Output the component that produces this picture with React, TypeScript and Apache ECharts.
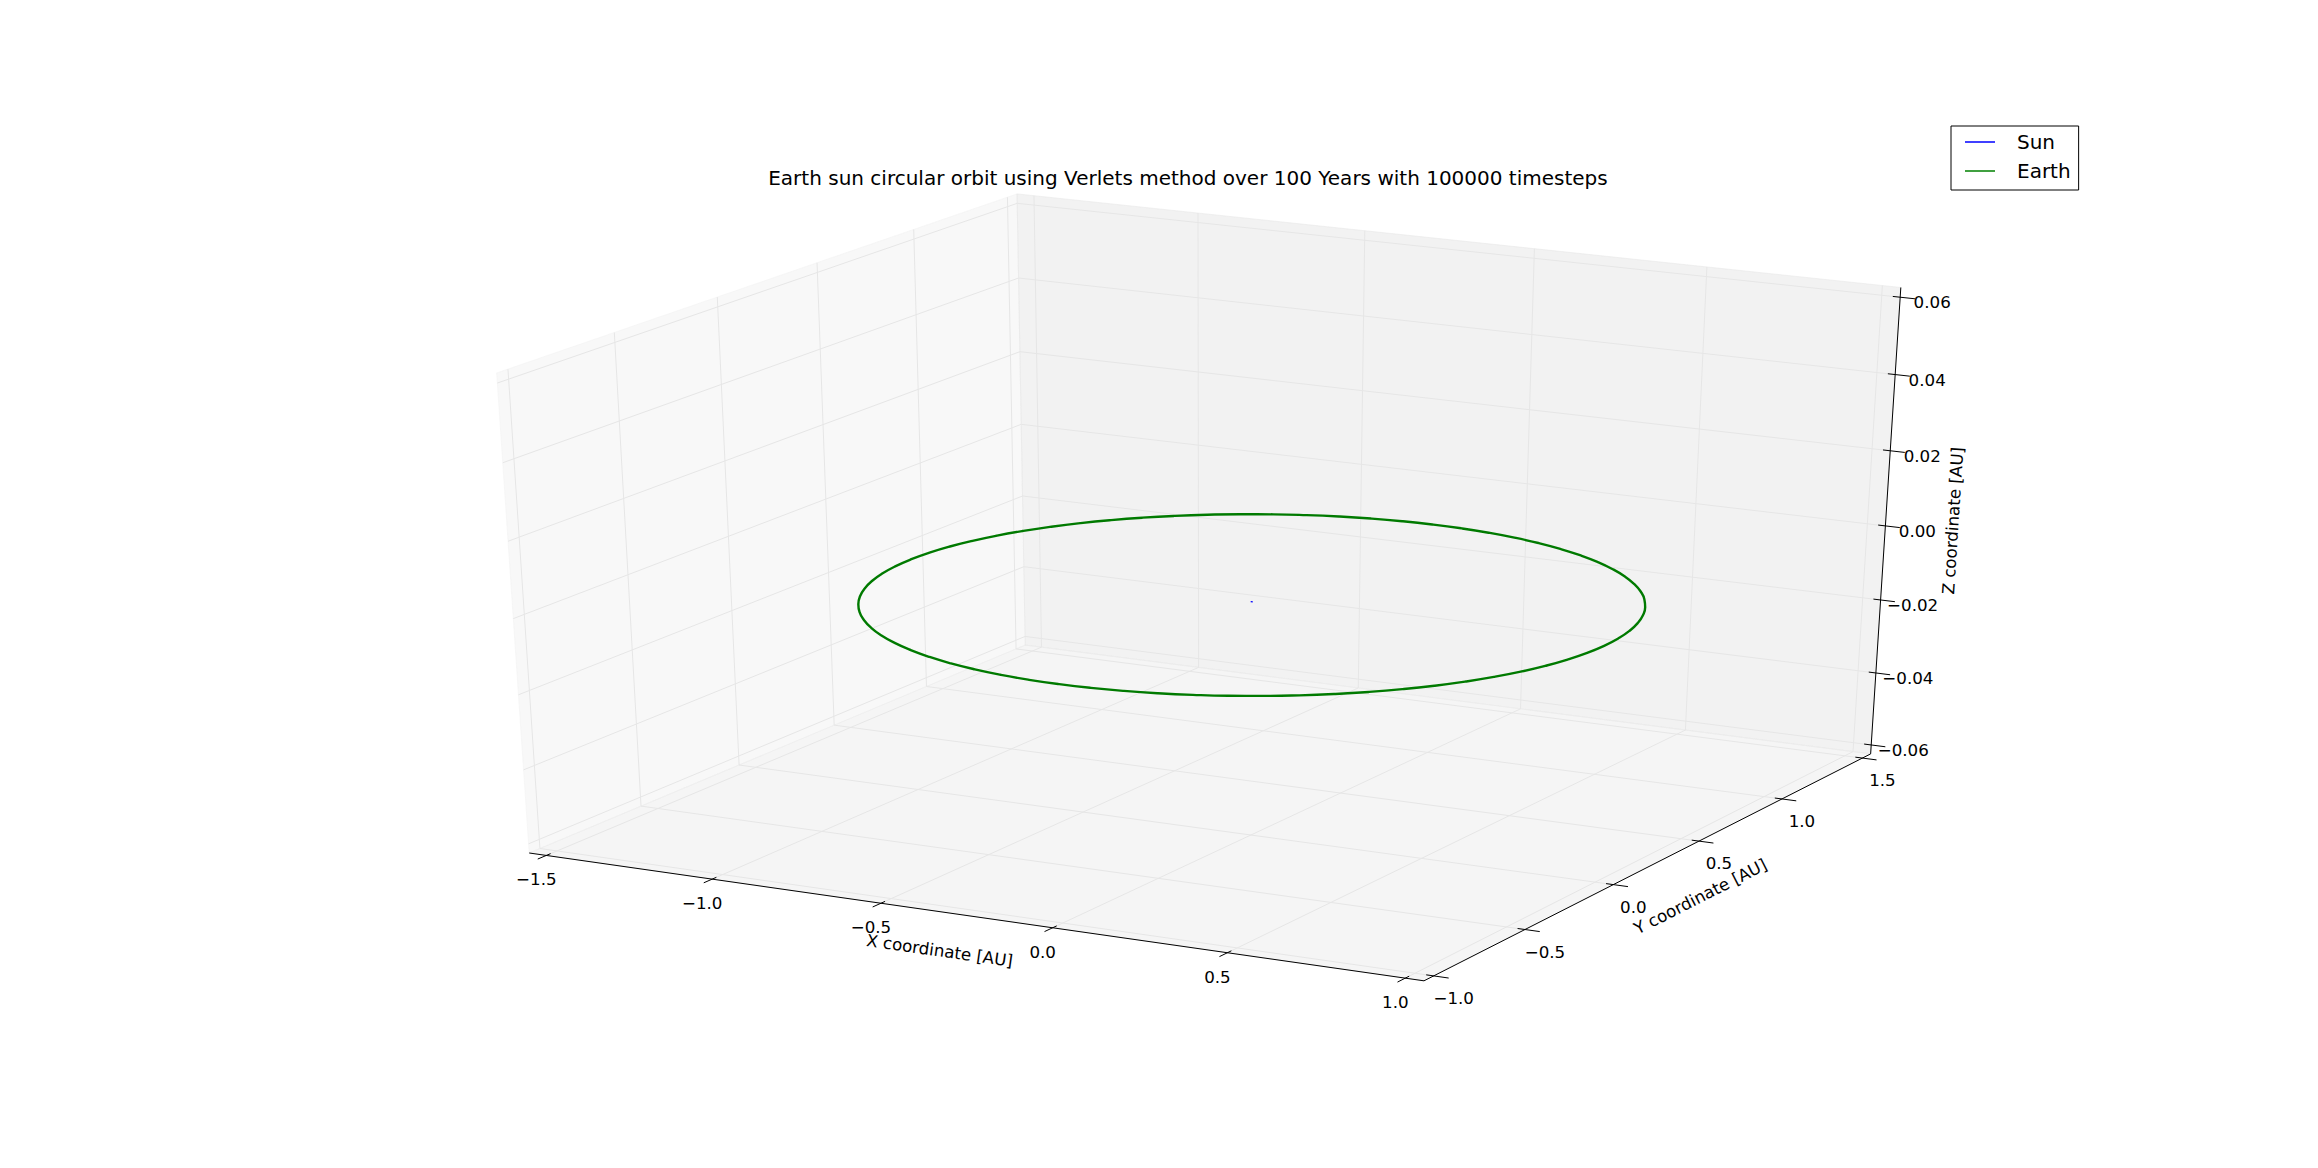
import { useEffect, useRef } from 'react'
import * as echarts from 'echarts'

// axis limits in AU
const xLimits = [-1.5, 1.0]
const yLimits = [-1.0, 1.5]
const zLimits = [-0.06, 0.06]

const xTicks = [-1.5, -1.0, -0.5, 0.0, 0.5, 1.0]
const yTicks = [-1.0, -0.5, 0.0, 0.5, 1.0, 1.5]
const zTicks = [-0.06, -0.04, -0.02, 0.0, 0.02, 0.04, 0.06]
const xTickLabels = ['\u22121.5', '\u22121.0', '\u22120.5', '0.0', '0.5', '1.0']
const yTickLabels = ['\u22121.0', '\u22120.5', '0.0', '0.5', '1.0', '1.5']
const zTickLabels = ['\u22120.06', '\u22120.04', '\u22120.02', '0.00', '0.02', '0.04', '0.06']

// sun barely moves around the origin
const sunX = [-0.003, 0.003]
const sunY = [0.0, 0.0]
const sunZ = [0.0, 0.0]

// earth orbit, radius 1 AU in the z = 0 plane (a little over one lap)
const earthX = [
  0.9962, 1.0, 0.9962, 0.9848, 0.9659, 0.9397, 0.9063, 0.866, 0.8192, 0.766, 0.7071, 0.6428,
  0.5736, 0.5, 0.4226, 0.342, 0.2588, 0.1736, 0.0872, 0.0, -0.0872, -0.1736, -0.2588, -0.342,
  -0.4226, -0.5, -0.5736, -0.6428, -0.7071, -0.766, -0.8192, -0.866, -0.9063, -0.9397, -0.9659,
  -0.9848, -0.9962, -1.0, -0.9962, -0.9848, -0.9659, -0.9397, -0.9063, -0.866, -0.8192, -0.766,
  -0.7071, -0.6428, -0.5736, -0.5, -0.4226, -0.342, -0.2588, -0.1736, -0.0872, 0.0, 0.0872,
  0.1736, 0.2588, 0.342, 0.4226, 0.5, 0.5736, 0.6428, 0.7071, 0.766, 0.8192, 0.866, 0.9063,
  0.9397, 0.9659, 0.9848, 0.9962, 1.0, 0.9962
]
const earthY = [
  -0.0872, 0.0, 0.0872, 0.1736, 0.2588, 0.342, 0.4226, 0.5, 0.5736, 0.6428, 0.7071, 0.766,
  0.8192, 0.866, 0.9063, 0.9397, 0.9659, 0.9848, 0.9962, 1.0, 0.9962, 0.9848, 0.9659, 0.9397,
  0.9063, 0.866, 0.8192, 0.766, 0.7071, 0.6428, 0.5736, 0.5, 0.4226, 0.342, 0.2588, 0.1736,
  0.0872, 0.0, -0.0872, -0.1736, -0.2588, -0.342, -0.4226, -0.5, -0.5736, -0.6428, -0.7071,
  -0.766, -0.8192, -0.866, -0.9063, -0.9397, -0.9659, -0.9848, -0.9962, -1.0, -0.9962, -0.9848,
  -0.9659, -0.9397, -0.9063, -0.866, -0.8192, -0.766, -0.7071, -0.6428, -0.5736, -0.5, -0.4226,
  -0.342, -0.2588, -0.1736, -0.0872, 0.0, 0.0872
]
const earthZ = 0.0

const TITLE = 'Earth sun circular orbit using Verlets method over 100 Years with 100000 timesteps'

const W = 2318
const H = 1168
// matplotlib subplot(111) box and the 2d view limits of an Axes3D
const GRID = { left: 0.125 * W, top: 0.1 * H, width: 0.775 * W, height: 0.8 * H }
const VIEW = [-0.095, 0.09]
const ELEV = 26
const AZIM = -61.5
const DIST = 10
const PAD = 1 / 48 // box is padded by a quarter of a twelfth of each range
const FONT = 'DejaVu Sans'

type V3 = [number, number, number]
const sub = (a: V3, b: V3): V3 => [a[0] - b[0], a[1] - b[1], a[2] - b[2]]
const dot = (a: V3, b: V3) => a[0] * b[0] + a[1] * b[1] + a[2] * b[2]
const cross = (a: V3, b: V3): V3 => [
  a[1] * b[2] - a[2] * b[1],
  a[2] * b[0] - a[0] * b[2],
  a[0] * b[1] - a[1] * b[0]
]
const unit = (a: V3): V3 => {
  const m = Math.sqrt(dot(a, a))
  return [a[0] / m, a[1] / m, a[2] / m]
}

// same camera as mplot3d: eye on a sphere round the cube centre, perspective divide
const el = (ELEV * Math.PI) / 180
const az = (AZIM * Math.PI) / 180
const center: V3 = [0.5, 0.5, 0.5]
const eye: V3 = [
  0.5 + Math.cos(az) * Math.cos(el) * DIST,
  0.5 + Math.sin(az) * Math.cos(el) * DIST,
  0.5 + Math.sin(el) * DIST
]
const nVec = unit(sub(eye, center))
const uVec = unit(cross([0, 0, 1], nVec))
const vVec = cross(nVec, uVec)

const projectWorld = (w: V3): [number, number] => {
  const d = sub(w, eye)
  const depth = -dot(nVec, d)
  return [dot(uVec, d) / depth, dot(vVec, d) / depth]
}
const norm = (val: number, lim: number[]) => (val - lim[0]) / (lim[1] - lim[0])
const project = (x: number, y: number, z: number) =>
  projectWorld([norm(x, xLimits), norm(y, yLimits), norm(z, zLimits)])

const LO = -PAD
const HI = 1 + PAD
const TICK_OUT = 0.2 / 12
const TICK_IN = 0.1 / 12

const renderFrame = (_params: any, api: any) => {
  const px = (wx: number, wy: number, wz: number) => api.coord(projectWorld([wx, wy, wz]))
  const children: any[] = []

  const pane = (pts: number[][], color: string) => ({
    type: 'polygon',
    shape: { points: pts },
    style: { fill: color, stroke: color, lineWidth: 1 }
  })
  // x pane at x min, y pane at y max, floor at z min
  children.push(pane([px(LO, LO, LO), px(LO, HI, LO), px(LO, HI, HI), px(LO, LO, HI)], 'rgba(242,242,242,0.5)'))
  children.push(pane([px(LO, HI, LO), px(HI, HI, LO), px(HI, HI, HI), px(LO, HI, HI)], 'rgba(230,230,230,0.5)'))
  children.push(pane([px(LO, LO, LO), px(HI, LO, LO), px(HI, HI, LO), px(LO, HI, LO)], 'rgba(236,236,236,0.5)'))

  const gridLine = (pts: number[][]) => ({
    type: 'polyline',
    shape: { points: pts },
    style: { stroke: 'rgb(230,230,230)', lineWidth: 1, fill: null }
  })
  xTicks.forEach((t) => {
    const w = norm(t, xLimits)
    children.push(gridLine([px(w, LO, LO), px(w, HI, LO), px(w, HI, HI)]))
  })
  yTicks.forEach((t) => {
    const w = norm(t, yLimits)
    children.push(gridLine([px(HI, w, LO), px(LO, w, LO), px(LO, w, HI)]))
  })
  zTicks.forEach((t) => {
    const w = norm(t, zLimits)
    children.push(gridLine([px(HI, HI, w), px(LO, HI, w), px(LO, LO, w)]))
  })

  const seg = (a: number[], b: number[]) => ({
    type: 'line',
    shape: { x1: a[0], y1: a[1], x2: b[0], y2: b[1] },
    style: { stroke: '#000', lineWidth: 1 }
  })
  // axis lines
  children.push(seg(px(LO, LO, LO), px(HI, LO, LO)))
  children.push(seg(px(HI, LO, LO), px(HI, HI, LO)))
  children.push(seg(px(HI, HI, LO), px(HI, HI, HI)))

  const label = (text: string, x: number, y: number, size: number, rotation = 0) => ({
    type: 'text',
    x,
    y,
    rotation,
    style: {
      text,
      fill: '#000',
      fontSize: size,
      fontFamily: FONT,
      align: 'center',
      verticalAlign: 'middle',
      textAlign: 'center',
      textVerticalAlign: 'middle'
    }
  })

  // ticks and tick labels
  xTicks.forEach((t, i) => {
    const w = norm(t, xLimits)
    children.push(seg(px(w, LO - TICK_OUT, LO), px(w, LO + TICK_IN, LO)))
    const p = px(w, LO, LO)
    children.push(label(xTickLabels[i], p[0] - 10, p[1] + 24, 16.7))
  })
  yTicks.forEach((t, i) => {
    const w = norm(t, yLimits)
    children.push(seg(px(HI - TICK_IN, w, LO), px(HI + TICK_OUT, w, LO)))
    const p = px(HI, w, LO)
    children.push(label(yTickLabels[i], p[0] + 20, p[1] + 22, 16.7))
  })
  zTicks.forEach((t, i) => {
    const w = norm(t, zLimits)
    children.push(seg(px(HI - TICK_IN, HI, w), px(HI + TICK_OUT, HI, w)))
    const p = px(HI, HI, w)
    children.push(label(zTickLabels[i], p[0] + 32, p[1] + 5, 16.7))
  })

  // axis titles, turned along their axes
  const axisTitle = (text: string, a: number[], b: number[], dx: number, dy: number) => {
    const rot = Math.atan2(-(b[1] - a[1]), b[0] - a[0])
    return label(text, (a[0] + b[0]) / 2 + dx, (a[1] + b[1]) / 2 + dy, 16.7, rot)
  }
  children.push(axisTitle('X coordinate [AU]', px(LO, LO, LO), px(HI, LO, LO), -37, 34))
  children.push(axisTitle('Y coordinate [AU]', px(HI, LO, LO), px(HI, HI, LO), 53, 29))
  children.push(axisTitle('Z coordinate [AU]', px(HI, HI, LO), px(HI, HI, HI), 67, 0))

  return { type: 'group', children }
}

const App: React.FC = () => {
  const chartRef = useRef<HTMLDivElement>(null)

  useEffect(() => {
    if (!chartRef.current) return
    const chart = echarts.init(chartRef.current, undefined, { renderer: 'svg' })

    const sunData = sunX.map((x, i) => project(x, sunY[i], sunZ[i]))
    const earthData = earthX.map((x, i) => project(x, earthY[i], earthZ))

    chart.setOption({
      animation: false,
      backgroundColor: '#ffffff',
      grid: { ...GRID },
      xAxis: { type: 'value', min: VIEW[0], max: VIEW[1], show: false },
      yAxis: { type: 'value', min: VIEW[0], max: VIEW[1], show: false },
      legend: {
        data: ['Sun', 'Earth'],
        orient: 'vertical',
        left: 1951,
        top: 126,
        padding: [6, 8, 9, 14],
        icon: 'rect',
        itemWidth: 30,
        itemHeight: 1.5,
        itemGap: 9,
        selectedMode: false,
        borderColor: '#000',
        borderWidth: 1,
        borderRadius: 0,
        backgroundColor: '#ffffff',
        textStyle: { fontFamily: FONT, fontSize: 20, color: '#000', padding: [0, 0, 0, 17] }
      },
      graphic: [
        {
          type: 'text',
          x: GRID.left + GRID.width / 2,
          y: 178,
          style: {
            text: TITLE,
            fill: '#000',
            fontSize: 20,
            fontFamily: FONT,
            align: 'center',
            verticalAlign: 'middle',
            textAlign: 'center',
            textVerticalAlign: 'middle'
          }
        }
      ],
      series: [
        {
          type: 'custom',
          name: 'frame',
          coordinateSystem: 'cartesian2d',
          data: [[0, 0]],
          renderItem: renderFrame,
          clip: false,
          silent: true,
          z: 1
        },
        {
          type: 'line',
          name: 'Sun',
          data: sunData,
          showSymbol: false,
          symbol: 'none',
          clip: false,
          silent: true,
          lineStyle: { color: '#0000ff', width: 1.3 },
          itemStyle: { color: '#0000ff' },
          z: 3
        },
        {
          type: 'line',
          name: 'Earth',
          data: earthData,
          smooth: true,
          showSymbol: false,
          symbol: 'none',
          clip: false,
          silent: true,
          lineStyle: { color: '#007a00', width: 2.4 },
          itemStyle: { color: '#008000' },
          z: 3
        }
      ]
    })

    return () => {
      chart.dispose()
    }
  }, [])

  return (
    <div
      ref={chartRef}
      style={{ position: 'fixed', left: 0, top: 0, width: W + 'px', height: H + 'px', background: '#fff' }}
    />
  )
}

export default App
